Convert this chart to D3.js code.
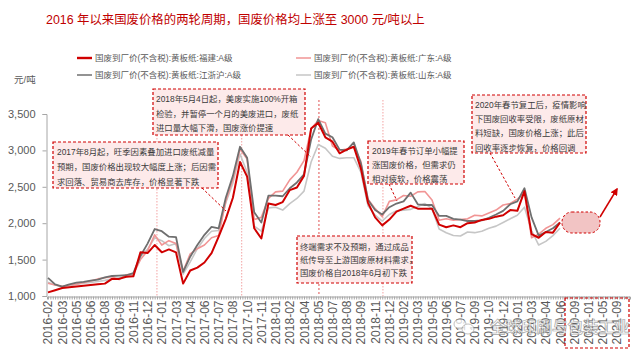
<!DOCTYPE html>
<html><head><meta charset="utf-8">
<script src="https://cdn.jsdelivr.net/npm/d3@7"></script>
<style>body{margin:0;background:#fff}svg{display:block}</style>
</head><body><svg id="c" width="640" height="356"></svg>
<script>
// ---------------- data ----------------
const xLabels = ["2016-02","2016-03","2016-05","2016-06","2016-08","2016-09","2016-11","2016-12",
"2017-01","2017-03","2017-04","2017-06","2017-07","2017-08","2017-10","2017-11",
"2018-01","2018-02","2018-04","2018-05","2018-07","2018-08","2018-09","2018-11","2018-12",
"2019-02","2019-03","2019-05","2019-06","2019-07","2019-09","2019-10","2019-12",
"2020-01","2020-03","2020-04","2020-06","2020-09","2021-01","2021-05","2021-09"];
const yTicks = [1000,1500,2000,2500,3000,3500];
// values sampled every half label interval
const fujian = [1050,1080,1110,1120,1130,1140,1150,1160,1170,1235,1235,1265,1270,1600,1590,1700,1600,1640,1600,1170,
1350,1390,1460,1590,1815,2060,2350,2840,2640,1930,1790,2270,2250,2290,2455,2490,2650,3300,3380,3180,
3120,2960,3010,3050,2750,2280,2080,1970,2050,2160,2200,2240,2200,2200,2200,1980,1945,1970,1945,2000,
2010,2045,2060,2090,2110,2180,2170,2440,1850,1800,1880,1870,2010];
const guangdong = [1175,1150,1130,1150,1165,1185,1205,1235,1250,1265,1225,1290,1300,1500,1620,1840,1700,1760,1720,1340,
1580,1650,1700,1800,1830,2300,2600,3020,2880,2050,2080,2340,2430,2440,2595,2700,2860,3300,3410,3380,
3060,3000,3020,3050,2850,2330,2200,2090,2300,2320,2380,2370,2430,2435,2320,2040,2060,2040,2050,2060,
2110,2100,2140,2180,2250,2270,2330,2410,1800,1850,1930,1980,2070];
const jiangzhehu = [1250,1160,1130,1160,1185,1195,1210,1225,1255,1275,1280,1285,1315,1550,1720,1920,1890,1815,1810,1330,
1540,1700,1840,1950,1930,2350,2650,3050,2900,2150,2010,2380,2380,2370,2480,2560,2670,3150,3430,3230,
3180,3010,3000,3110,2820,2320,2180,2120,2220,2270,2300,2420,2260,2250,2250,2100,2100,2060,2050,2030,
2030,2040,2075,2120,2170,2260,2300,2480,2080,1830,1880,1930,2010];
const shandong = [1190,1150,1130,1140,1160,1175,1185,1200,1215,1235,1250,1265,1290,1540,1640,1800,1760,1690,1720,1300,
1470,1650,1790,1890,1900,2280,2550,2950,2700,1960,1890,2210,2220,2180,2270,2340,2440,2840,3080,3030,
2920,2890,2900,2900,2700,2240,2110,2030,2120,2170,2180,2190,2230,2270,2200,1920,1870,1830,1825,1880,
1870,1890,1930,1960,2010,2060,2110,2220,1900,1700,1750,1830,1930];
const seriesNames = ["国废到厂价(不含税):黄板纸:福建:A级","国废到厂价(不含税):黄板纸:广东:A级",
"国废到厂价(不含税):黄板纸:江浙沪:A级","国废到厂价(不含税):黄板纸:山东:A级"];
const dataStep = 0.5;

// ---------------- layout ----------------
const svg = d3.select("#c");
const FONT = "'Liberation Sans','Noto Sans CJK SC',sans-serif";
const x = d3.scaleLinear().domain([-0.07, 40.92]).range([47, 630]);
const y = d3.scaleLinear().domain([1000, 3500]).range([296, 114]);
const series = [
  {name: seriesNames[3], values: shandong, color: "#c6c6c6", w: 1.6},
  {name: seriesNames[1], values: guangdong, color: "#f19595", w: 1.6},
  {name: seriesNames[2], values: jiangzhehu, color: "#6f6f6f", w: 1.8},
  {name: seriesNames[0], values: fujian, color: "#d00000", w: 2}
];

// title
svg.append("text").attr("x", 46).attr("y", 23.5).attr("fill", "#c00000")
  .attr("font-family", FONT).attr("font-size", 12.4)
  .text("2016 年以来国废价格的两轮周期，国废价格均上涨至 3000 元/吨以上");

// legend
const legendItems = [
  {name: seriesNames[0], color: "#d00000", w: 2.4, lx: 77, ly: 58},
  {name: seriesNames[1], color: "#f19595", w: 1.5, lx: 296, ly: 58},
  {name: seriesNames[2], color: "#6f6f6f", w: 1.5, lx: 77, ly: 75},
  {name: seriesNames[3], color: "#c6c6c6", w: 1.5, lx: 296, ly: 75}
];
legendItems.forEach(d => {
  svg.append("line").attr("x1", d.lx).attr("x2", d.lx + 15).attr("y1", d.ly).attr("y2", d.ly)
    .attr("stroke", d.color).attr("stroke-width", d.w);
  svg.append("text").attr("x", d.lx + 18).attr("y", d.ly + 3).attr("fill", "#595959")
    .attr("font-family", FONT).attr("font-size", 8.5).text(d.name);
});

// y axis title
svg.append("text").attr("x", 14).attr("y", 83).attr("fill", "#595959")
  .attr("font-family", FONT).attr("font-size", 9.5).text("元/吨");

// y axis
const yAxis = svg.append("g").attr("transform", "translate(46.5,0)")
  .call(d3.axisLeft(y).tickValues(yTicks).tickSize(4).tickPadding(7).tickFormat(d3.format(",")));
yAxis.selectAll("path,line").attr("stroke", "#a6a6a6");
yAxis.selectAll("text").attr("fill", "#595959").attr("font-family", FONT).attr("font-size", 11);

// reference vertical lines
const refLines = [
  {at: 7.66, y0: 135, color: "#f3a3a3", dash: "1.5,1.5"},
  {at: 13.62, y0: 135, color: "#f3a3a3", dash: "1.5,1.5"},
  {at: 19.05, y0: 100, color: "#e05050", dash: "2,2"},
  {at: 23.55, y0: 100, color: "#f3a3a3", dash: "1.5,1.5"}
];
refLines.forEach(r => {
  svg.append("line").attr("x1", x(r.at)).attr("x2", x(r.at)).attr("y1", r.y0).attr("y2", 296)
    .attr("stroke", r.color).attr("stroke-width", 1).attr("stroke-dasharray", r.dash);
});

// lines
const line = d3.line().x((d, i) => x(i * dataStep)).y(d => y(d));
series.forEach(s => {
  svg.append("path").datum(s.values).attr("d", line).attr("fill", "none")
    .attr("stroke", s.color).attr("stroke-width", s.w).attr("stroke-linejoin", "round");
});

// x axis
const xMinor = svg.append("g").attr("transform", "translate(0,296.5)")
  .call(d3.axisBottom(x).tickValues(d3.range(0, 40.9, 1/6)).tickSize(3).tickFormat(""));
xMinor.selectAll("path,line").attr("stroke", "#a6a6a6");
const xAxis = svg.append("g").attr("transform", "translate(0,296.5)")
  .call(d3.axisBottom(x).tickValues(d3.range(xLabels.length)).tickSize(0).tickPadding(0)
    .tickFormat(i => xLabels[i]));
xAxis.select("path").remove();
xAxis.selectAll("text").attr("fill", "#595959").attr("font-family", FONT).attr("font-size", 12)
  .attr("text-anchor", "end").attr("dy", 0).attr("transform", "rotate(-90)")
  .attr("x", -4).attr("y", 0).attr("dominant-baseline", "central");

// annotation boxes
const boxes = [
  {x: 53, y: 142, w: 165, h: 46, tx: 57, ty: [154.7, 169.7, 184.7],
   lines: ["2017年8月起，旺季因素叠加进口废纸减量", "预期，国废价格出现较大幅度上涨；后因需", "求回落、贸易商去库存，价格显著下跌"]},
  {x: 153, y: 89, w: 152, h: 46, tx: 156, ty: [102.3, 117.3, 131.3],
   lines: ["2018年5月4日起，美废实施100%开箱", "检验，并暂停一个月的美废进口，废纸", "进口量大幅下滑，国废涨价提速"]},
  {x: 368, y: 141, w: 96, h: 43, tx: 372, ty: [154, 168, 182],
   lines: ["2019年春节订单小幅提", "涨国废价格，但需求仍", "相对疲软，价格震荡"]},
  {x: 472, y: 95, w: 114, h: 58, tx: 475, ty: [108, 122.3, 136.3, 150.7],
   lines: ["2020年春节复工后，疫情影响", "下国废回收率受限，废纸原材", "料短缺，国废价格上涨；此后", "回收率逐步恢复，价格回调"]},
  {x: 297, y: 236, w: 115, h: 47, tx: 300, ty: [249.7, 263, 276.3],
   lines: ["终端需求不及预期，通过成品", "纸传导至上游国废原材料需求，", "国废价格自2018年6月初下跌"]}
];
const connectors = [[202,188,226,211],[288,135,311,157],[389,184,397,201],[490,153,515,198]];
connectors.forEach(c => {
  svg.append("line").attr("x1", c[0]).attr("y1", c[1]).attr("x2", c[2]).attr("y2", c[3])
    .attr("stroke", "#d00000").attr("stroke-width", 1).attr("stroke-dasharray", "2.5,2");
});
boxes.forEach(b => {
  svg.append("rect").attr("x", b.x).attr("y", b.y).attr("width", b.w).attr("height", b.h)
    .attr("fill", "#fdeaea").attr("stroke", "#d00000").attr("stroke-width", 1.2)
    .attr("stroke-dasharray", "3,2");
  b.lines.forEach((t, k) => {
    svg.append("text").attr("x", b.tx).attr("y", b.ty[k]).attr("fill", "#3a3a3a")
      .attr("font-family", FONT).attr("font-size", 8.4).text(t);
  });
});

// forecast bubble and arrow
svg.append("defs").append("marker").attr("id", "ah").attr("viewBox", "0 0 10 10")
  .attr("refX", 8).attr("refY", 5).attr("markerWidth", 5).attr("markerHeight", 5)
  .attr("orient", "auto").append("path").attr("d", "M0,0L10,5L0,10z").attr("fill", "#d00000");
svg.append("rect").attr("x", 562).attr("y", 212).attr("width", 38).attr("height", 21).attr("rx", 10)
  .attr("fill", "#f2c4c4").attr("stroke", "#d00000").attr("stroke-width", 1).attr("stroke-dasharray", "2.5,2");
svg.append("line").attr("x1", 600).attr("y1", 217).attr("x2", 617).attr("y2", 189)
  .attr("stroke", "#d00000").attr("stroke-width", 1.5).attr("marker-end", "url(#ah)");
svg.append("rect").attr("x", 565).attr("y", 298).attr("width", 64).attr("height", 50)
  .attr("fill", "none").attr("stroke", "#d00000").attr("stroke-width", 1.2).attr("stroke-dasharray", "3,2");

// watermark
const wm = svg.append("g").attr("opacity", 0.75);
wm.append("ellipse").attr("cx", 460).attr("cy", 324).attr("rx", 6).attr("ry", 5)
  .attr("fill", "#fff").attr("stroke", "#999").attr("stroke-width", 0.8);
wm.append("ellipse").attr("cx", 468).attr("cy", 329).attr("rx", 6).attr("ry", 5)
  .attr("fill", "#fff").attr("stroke", "#999").attr("stroke-width", 0.8);
wm.append("text").attr("x", 490).attr("y", 333).attr("fill", "#fff").attr("stroke", "#8a8a8a")
  .attr("stroke-width", 0.7).attr("font-family", FONT).attr("font-size", 15.5).attr("font-weight", "bold")
  .text("全球印刷与包装工业");
</script>
</body></html>
